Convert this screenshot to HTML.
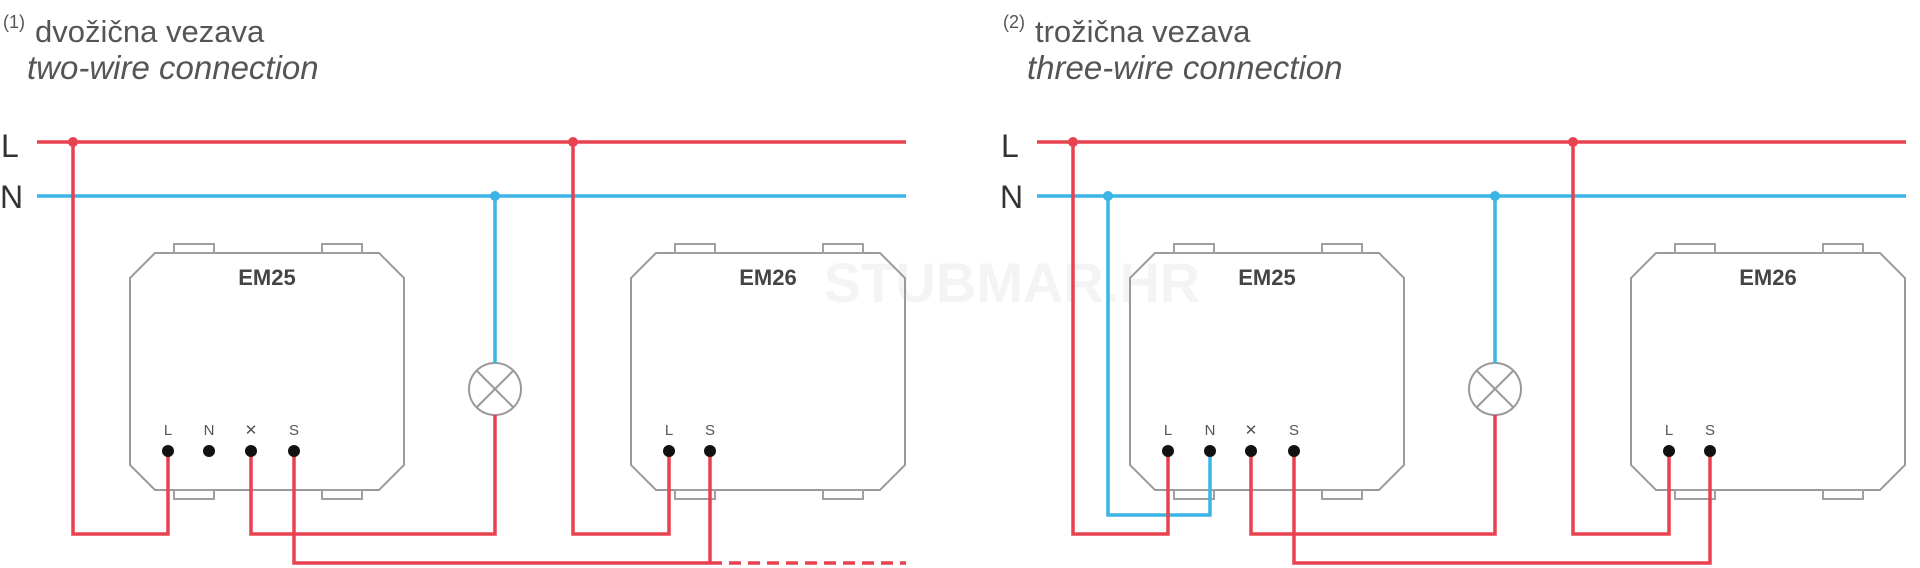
<!DOCTYPE html>
<html><head><meta charset="utf-8"><style>
html,body{margin:0;padding:0;background:#fff;}
svg{display:block;}
text{font-family:"Liberation Sans",sans-serif;}
</style></head><body>
<svg width="1920" height="568" viewBox="0 0 1920 568" xmlns="http://www.w3.org/2000/svg">
<defs>
<g id="box">
  <path d="M155,253 H379 L404,278 V465 L379,490 H155 L130,465 V278 Z" fill="none" stroke="#9a9a9a" stroke-width="2"/>
</g>
<g id="tabs">
  <rect x="0" y="244" width="40" height="9" fill="none" stroke="#a0a0a0" stroke-width="2"/>
  <rect x="0" y="490" width="40" height="9" fill="none" stroke="#a0a0a0" stroke-width="2"/>
</g>
</defs>
<text x="1012" y="302" font-size="56" font-weight="bold" fill="#f4f4f4" text-anchor="middle">STUBMAR.HR</text>

<!-- PANEL 1 -->
<g>
  <text x="3" y="28" font-size="18" fill="#555">(1)</text>
  <text x="35" y="42" font-size="31" fill="#555">dvožična vezava</text>
  <text x="27" y="79" font-size="33" font-style="italic" fill="#555">two-wire connection</text>
  <text x="1" y="157" font-size="32" fill="#333">L</text>
  <text x="0" y="208" font-size="32" fill="#333">N</text>
  <line x1="37" y1="142" x2="906" y2="142" stroke="#e8414f" stroke-width="3.5"/>
  <line x1="37" y1="196" x2="906" y2="196" stroke="#3bb4e6" stroke-width="3.5"/>
  <use href="#box"/>
  <use href="#tabs" x="174"/><use href="#tabs" x="322"/>
  <use href="#box" x="501"/>
  <use href="#tabs" x="675"/><use href="#tabs" x="823"/>
  <text x="267" y="285" font-size="22" font-weight="bold" fill="#444" text-anchor="middle">EM25</text>
  <text x="768" y="285" font-size="22" font-weight="bold" fill="#444" text-anchor="middle">EM26</text>
  <circle cx="495" cy="389" r="26" fill="#fff" stroke="#999" stroke-width="2"/>
  <line x1="477" y1="371" x2="513" y2="407" stroke="#999" stroke-width="2"/>
  <line x1="513" y1="371" x2="477" y2="407" stroke="#999" stroke-width="2"/>
  <g fill="none" stroke="#e8414f" stroke-width="3.5">
    <polyline points="73,142 73,534 168,534 168,451"/>
    <polyline points="251,451 251,534 495,534 495,415"/>
    <polyline points="294,451 294,563 710,563 710,451"/>
    <polyline points="573,142 573,534 669,534 669,451"/>
    <line x1="710" y1="563" x2="906" y2="563" stroke-dasharray="12,7"/>
  </g>
  <line x1="495" y1="196" x2="495" y2="363" stroke="#3bb4e6" stroke-width="3.5"/>
  <circle cx="73" cy="142" r="5" fill="#e8414f"/>
  <circle cx="573" cy="142" r="5" fill="#e8414f"/>
  <circle cx="495" cy="196" r="5" fill="#3bb4e6"/>
  <g font-size="15" fill="#555" text-anchor="middle">
    <text x="168" y="435">L</text><text x="209" y="435">N</text><text x="251" y="435">✕</text><text x="294" y="435">S</text>
    <text x="669" y="435">L</text><text x="710" y="435">S</text>
  </g>
  <g fill="#111">
    <circle cx="168" cy="451" r="6"/><circle cx="209" cy="451" r="6"/><circle cx="251" cy="451" r="6"/><circle cx="294" cy="451" r="6"/>
    <circle cx="669" cy="451" r="6"/><circle cx="710" cy="451" r="6"/>
  </g>
</g>

<!-- PANEL 2 -->
<g transform="translate(1000,0)">
  <text x="3" y="28" font-size="18" fill="#555">(2)</text>
  <text x="35" y="42" font-size="31" fill="#555">trožična vezava</text>
  <text x="27" y="79" font-size="33" font-style="italic" fill="#555">three-wire connection</text>
  <text x="1" y="157" font-size="32" fill="#333">L</text>
  <text x="0" y="208" font-size="32" fill="#333">N</text>
  <line x1="37" y1="142" x2="906" y2="142" stroke="#e8414f" stroke-width="3.5"/>
  <line x1="37" y1="196" x2="906" y2="196" stroke="#3bb4e6" stroke-width="3.5"/>
  <use href="#box"/>
  <use href="#tabs" x="174"/><use href="#tabs" x="322"/>
  <use href="#box" x="501"/>
  <use href="#tabs" x="675"/><use href="#tabs" x="823"/>
  <text x="267" y="285" font-size="22" font-weight="bold" fill="#444" text-anchor="middle">EM25</text>
  <text x="768" y="285" font-size="22" font-weight="bold" fill="#444" text-anchor="middle">EM26</text>
  <circle cx="495" cy="389" r="26" fill="#fff" stroke="#999" stroke-width="2"/>
  <line x1="477" y1="371" x2="513" y2="407" stroke="#999" stroke-width="2"/>
  <line x1="513" y1="371" x2="477" y2="407" stroke="#999" stroke-width="2"/>
  <polyline points="108,196 108,515 210,515 210,451" fill="none" stroke="#3bb4e6" stroke-width="3.5"/>
  <g fill="none" stroke="#e8414f" stroke-width="3.5">
    <polyline points="73,142 73,534 168,534 168,451"/>
    <polyline points="251,451 251,534 495,534 495,415"/>
    <polyline points="294,451 294,563 710,563 710,451"/>
    <polyline points="573,142 573,534 669,534 669,451"/>
  </g>
  <line x1="495" y1="196" x2="495" y2="363" stroke="#3bb4e6" stroke-width="3.5"/>
  <circle cx="73" cy="142" r="5" fill="#e8414f"/>
  <circle cx="573" cy="142" r="5" fill="#e8414f"/>
  <circle cx="108" cy="196" r="5" fill="#3bb4e6"/>
  <circle cx="495" cy="196" r="5" fill="#3bb4e6"/>
  <g font-size="15" fill="#555" text-anchor="middle">
    <text x="168" y="435">L</text><text x="210" y="435">N</text><text x="251" y="435">✕</text><text x="294" y="435">S</text>
    <text x="669" y="435">L</text><text x="710" y="435">S</text>
  </g>
  <g fill="#111">
    <circle cx="168" cy="451" r="6"/><circle cx="210" cy="451" r="6"/><circle cx="251" cy="451" r="6"/><circle cx="294" cy="451" r="6"/>
    <circle cx="669" cy="451" r="6"/><circle cx="710" cy="451" r="6"/>
  </g>
</g>
</svg>
</body></html>
